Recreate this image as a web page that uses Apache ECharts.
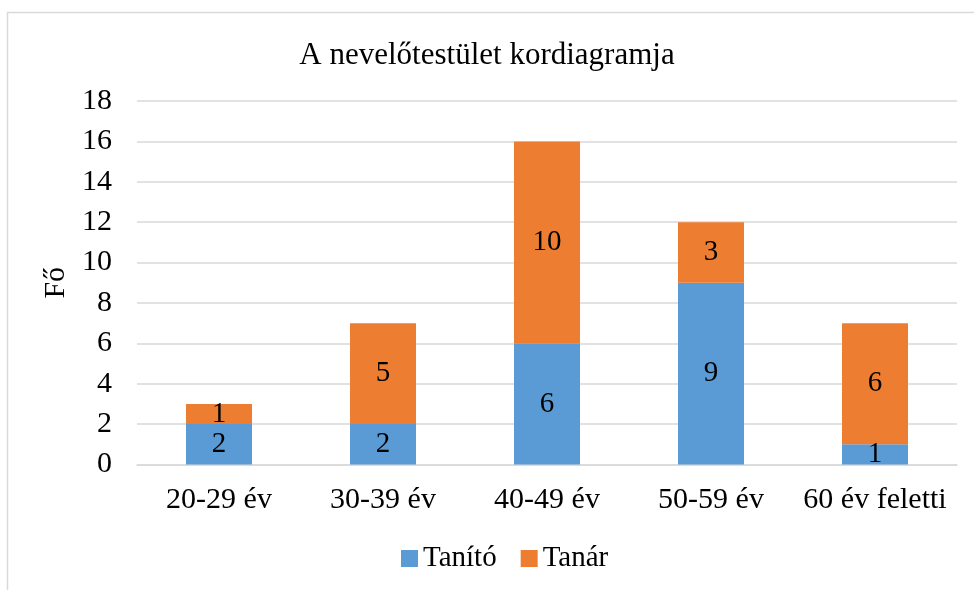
<!DOCTYPE html>
<html>
<head>
<meta charset="utf-8">
<script src="https://cdn.jsdelivr.net/npm/echarts@6/dist/echarts.min.js"></script>
<style>
html,body{margin:0;padding:0;background:#fff;}
#chart{width:974px;height:590px;}
</style>
</head>
<body>
<div id="chart"></div>
<script>
var categories = ['20-29 év', '30-39 év', '40-49 év', '50-59 év', '60 év feletti'];
var tanito = [2, 2, 6, 9, 1];
var tanar = [1, 5, 10, 3, 6];
var yTicks = { min: 0, max: 18, interval: 2 };
var seriesNames = ['Tanító', 'Tanár'];
var colors = ['#5B9BD5', '#ED7D31'];
var titleText = 'A nevelőtestület kordiagramja';
var yName = 'Fő';

var FONT = '"Liberation Serif", "Times New Roman", serif';
var chart = echarts.init(document.getElementById('chart'));
chart.setOption({
  animation: false,
  backgroundColor: '#fff',
  graphic: [{
    type: 'rect', shape: { x: 7.5, y: 12.5, width: 1200, height: 1000 },
    style: { fill: 'none', stroke: '#d9d9d9', lineWidth: 1.5 }, z: -1
  }],
  title: {
    text: titleText, left: 'center', top: 35,
    textStyle: { fontFamily: FONT, fontSize: 31, fontWeight: 'normal', color: '#000' }
  },
  legend: {
    data: seriesNames, bottom: 12, left: 396, itemWidth: 17, itemHeight: 17, itemGap: 24,
    icon: 'rect',
    textStyle: { fontFamily: FONT, fontSize: 29, color: '#000' }
  },
  grid: { left: 137, right: 17, top: 101, bottom: 125.5, containLabel: false },
  xAxis: {
    type: 'category', data: categories,
    axisLine: { show: true, lineStyle: { color: '#d9d9d9', width: 1.5 } },
    axisTick: { show: false },
    axisLabel: { interval: 0, hideOverlap: false, fontFamily: FONT, fontSize: 30, color: '#000', margin: 21 }
  },
  yAxis: {
    type: 'value', min: yTicks.min, max: yTicks.max, interval: yTicks.interval,
    name: yName, nameLocation: 'middle', nameGap: 66,
    nameTextStyle: { fontFamily: FONT, fontSize: 30, color: '#000' },
    axisLine: { show: false }, axisTick: { show: false },
    axisLabel: { fontFamily: FONT, fontSize: 30, color: '#000', margin: 25 },
    splitLine: { lineStyle: { color: '#d9d9d9', width: 1.5 } }
  },
  series: [
    {
      name: seriesNames[0], type: 'bar', stack: 'a', data: tanito, barWidth: 66,
      itemStyle: { color: colors[0] },
      label: { show: true, position: 'inside', fontFamily: FONT, fontSize: 29, color: '#000' }
    },
    {
      name: seriesNames[1], type: 'bar', stack: 'a', data: tanar, barWidth: 66,
      itemStyle: { color: colors[1] },
      label: { show: true, position: 'inside', fontFamily: FONT, fontSize: 29, color: '#000' }
    }
  ]
});
</script>
</body>
</html>
